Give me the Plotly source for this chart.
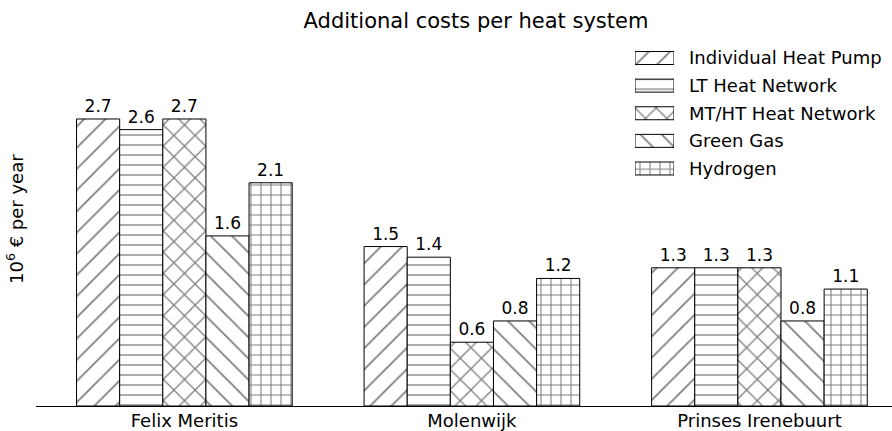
import plotly.graph_objects as go

categories = ["Felix Meritis", "Molenwijk", "Prinses Irenebuurt"]
series_names = ["Individual Heat Pump", "LT Heat Network", "MT/HT Heat Network",
                "Green Gas", "Hydrogen"]
individual_heat_pump = [2.7, 1.5, 1.3]
lt_heat_network = [2.6, 1.4, 1.3]
mt_ht_heat_network = [2.7, 0.6, 1.3]
green_gas = [1.6, 0.8, 0.8]
hydrogen = [2.1, 1.2, 1.1]
series_values = [individual_heat_pump, lt_heat_network, mt_ht_heat_network,
                 green_gas, hydrogen]

hatch_shapes = ["/", "-", "x", "\\", "+"]
hatch_sizes = [15, 10, 15, 15, 10]
hatch_solidity = [0.12, 0.13, 0.17, 0.12, 0.2]

FONT = "DejaVu Sans"
W, H = 892, 431
L, R, T, B = 36, 0, 40, 25
PX_PER_UNIT = 106.3
plot_h = H - T - B
plot_w = W - L - R

fig = go.Figure()
for name, vals, shp, sz, sol in zip(series_names, series_values, hatch_shapes,
                                    hatch_sizes, hatch_solidity):
    fig.add_trace(go.Bar(
        name=name, x=categories, y=vals,
        marker=dict(color="white", line=dict(color="black", width=1),
                    pattern=dict(shape=shp, size=sz, solidity=sol,
                                 fgcolor="black", bgcolor="white")),
        text=[f"{v:.1f}" for v in vals], textposition="outside",
        textfont=dict(family=FONT, size=17, color="black"),
        cliponaxis=False, showlegend=False,
    ))

# custom legend swatches drawn as a small bar chart
fig.add_trace(go.Bar(
    x=[1] * len(series_names), y=series_names, orientation="h", width=0.47,
    xaxis="x2", yaxis="y2", showlegend=False, hoverinfo="skip",
    marker=dict(color="white", line=dict(color="black", width=1),
                pattern=dict(shape=hatch_shapes, size=hatch_sizes,
                             solidity=hatch_solidity,
                             fgcolor="black", bgcolor="white")),
))


def dom_x(px):
    return (px - L) / plot_w


def dom_y(px):
    return (H - B - px) / plot_h


fig.update_layout(
    width=W, height=H,
    margin=dict(l=L, r=R, t=T, b=B, autoexpand=False),
    paper_bgcolor="white", plot_bgcolor="white",
    barmode="group", bargap=0.25, bargroupgap=0,
    font=dict(family=FONT, size=18, color="black"),
    title=dict(text="Additional costs per heat system", x=476 / W, xanchor="center",
               xref="container", y=1 - 21 / H, yanchor="middle", yref="container",
               font=dict(family=FONT, size=21, color="black")),
    xaxis=dict(range=[-0.516, 2.461], showline=True, linecolor="black", linewidth=1.3,
               ticks="", showgrid=False, zeroline=False, automargin=False,
               ticklabelstandoff=-2,
               tickfont=dict(family=FONT, size=18, color="black")),
    yaxis=dict(range=[0, plot_h / PX_PER_UNIT], visible=False, showgrid=False,
               zeroline=False, fixedrange=True),
    xaxis2=dict(domain=[dom_x(635), dom_x(674)], anchor="y2", range=[0, 1],
                visible=False),
    yaxis2=dict(domain=[dom_y(182.3), dom_y(44.2)], anchor="x2", side="right",
                categoryorder="array", categoryarray=series_names,
                range=[4.5, -0.5], showgrid=False, zeroline=False, showline=False,
                ticks="", ticklabelstandoff=14, automargin=False,
                tickfont=dict(family=FONT, size=18, color="black")),
    annotations=[dict(text="10<sup>6</sup> € per year", textangle=-90,
                      xref="paper", yref="paper", x=dom_x(15), y=dom_y(219),
                      xanchor="center", yanchor="middle", showarrow=False,
                      font=dict(family=FONT, size=18, color="black"))],
)

fig.write_html("out.html", config={"displayModeBar": False},
               post_script="document.body.style.margin='0';"
                           "document.body.style.padding='0';"
                           "document.body.style.overflow='hidden';")
